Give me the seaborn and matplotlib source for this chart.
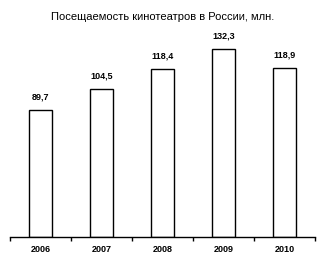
import matplotlib
matplotlib.use("Agg")
import matplotlib.pyplot as plt
import seaborn as sns
import pandas as pd

years = ["2006", "2007", "2008", "2009", "2010"]
values = [89.7, 104.5, 118.4, 132.3, 118.9]
labels = ["89,7", "104,5", "118,4", "132,3", "118,9"]
title = "Посещаемость кинотеатров в России, млн."

sns.set_style("white")
plt.rcParams['font.family'] = ['Liberation Sans', 'DejaVu Sans']
plt.rcParams['text.color'] = 'black'
plt.rcParams['xtick.color'] = 'black'
plt.rcParams['xtick.labelcolor'] = 'black'

df = pd.DataFrame({"year": years, "value": values})

fig = plt.figure(figsize=(3.25, 2.67), dpi=100)
ax = fig.add_axes([10/325, 30/267, 305/325, 217/267])
sns.barplot(data=df, x="year", y="value", color="white", edgecolor="black",
            linewidth=1.0, width=0.39, ax=ax, saturation=1)

ax.set_xlim(-0.5, 4.5)
ax.set_ylim(0, 217/1.42)
for s in ["top", "right", "left"]:
    ax.spines[s].set_visible(False)
ax.spines["bottom"].set_linewidth(1.0)
ax.spines["bottom"].set_color("black")
ax.set_yticks([])
ax.set_xlabel("")
ax.set_ylabel("")
ax.tick_params(axis="x", which="major", bottom=True, length=0, pad=6, labelsize=6.5,
               labelcolor="black")
for t in ax.get_xticklabels():
    t.set_fontweight("bold")
ax.set_xticks([i - 0.5 for i in range(len(years) + 1)], minor=True)
ax.tick_params(axis="x", which="minor", bottom=True, length=3, width=1,
               color="black", direction="out")

for i, (v, lab) in enumerate(zip(values, labels)):
    ax.annotate(lab, (i, v), xytext=(0, 6), textcoords="offset points",
                ha="center", va="bottom", fontsize=6.5, fontweight="bold", color="black")

fig.text(0.5, 1 - 17/267, title, ha="center", va="center", fontsize=8, color="black")

fig.savefig("out.png", dpi=100)
